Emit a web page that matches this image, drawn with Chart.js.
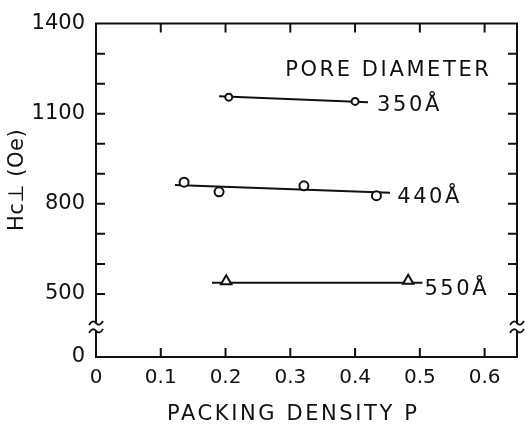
<!DOCTYPE html>
<html>
<head>
<meta charset="utf-8">
<script src="https://cdn.jsdelivr.net/npm/chart.js@4/dist/chart.umd.min.js"></script>
<style>
  html, body { margin: 0; padding: 0; background: #fff; }
  canvas { display: block; }
</style>
</head>
<body>
<canvas id="c" width="528" height="430"></canvas>
<script>
// ---- data ----
const xTicks = [0, 0.1, 0.2, 0.3, 0.4, 0.5, 0.6];
const yTicks = [290, 500, 600, 700, 800, 900, 1000, 1100, 1200, 1300, 1400];
const yLabelValues = [290, 500, 800, 1100, 1400];
const yLabelTexts = ['0', '500', '800', '1100', '1400'];

// 350 Å pores
const p350 = [0.205, 0.40];
const h350 = [1155, 1141];
const fitP350 = [0.19, 0.42];
const fitH350 = [1158, 1138];

// 440 Å pores
const p440 = [0.136, 0.190, 0.321, 0.433];
const h440 = [872, 840, 860, 827];
const fitP440 = [0.122, 0.454];
const fitH440 = [863, 837];

// 550 Å pores
const p550 = [0.201, 0.482];
const h550 = [542, 544];
const fitP550 = [0.179, 0.504];
const fitH550 = [537, 537];

// text notes (data coordinates)
const noteTexts = ['PORE DIAMETER', '350Å', '440Å', '550Å'];
const noteX = [0.292, 0.434, 0.465, 0.507];
const noteY = [1245, 1128, 821, 516];

const xTitle = 'PACKING DENSITY P';
const yTitle = 'Hc⊥ (Oe)';
const breakValues = [403, 377];

const FONT = "'DejaVu Sans', 'Liberation Sans', sans-serif";
const INK = '#111';

function pts(xs, ys) { return xs.map((x, i) => ({ x: x, y: ys[i] })); }

function pointSet(xs, ys, style, r) {
  return {
    data: pts(xs, ys), showLine: false, pointStyle: style,
    pointRadius: r, pointBorderWidth: 2, pointBorderColor: INK,
    pointBackgroundColor: '#fff', order: 0
  };
}
function fitSet(xs, ys) {
  return {
    data: pts(xs, ys), showLine: true, pointRadius: 0,
    borderColor: INK, borderWidth: 2, order: 1
  };
}

const frame = {
  id: 'frame',
  afterDatasetsDraw(chart) {
    const ctx = chart.ctx;
    const a = chart.chartArea;
    const xs = chart.scales.x, ys = chart.scales.y;
    const b1 = ys.getPixelForValue(breakValues[0]);
    const b2 = ys.getPixelForValue(breakValues[1]);
    ctx.save();
    ctx.strokeStyle = INK;
    ctx.lineWidth = 2;
    ctx.lineCap = 'butt';
    ctx.beginPath();
    // top
    ctx.moveTo(a.left - 1, a.top); ctx.lineTo(a.right + 1, a.top);
    // bottom
    ctx.moveTo(a.left - 1, a.bottom); ctx.lineTo(a.right + 1, a.bottom);
    // left with break
    ctx.moveTo(a.left, a.top); ctx.lineTo(a.left, b1);
    ctx.moveTo(a.left, b2); ctx.lineTo(a.left, a.bottom);
    // right with break
    ctx.moveTo(a.right, a.top); ctx.lineTo(a.right, b1);
    ctx.moveTo(a.right, b2); ctx.lineTo(a.right, a.bottom);
    ctx.stroke();

    // break squiggles
    ctx.lineWidth = 1.8;
    [a.left, a.right].forEach(x => {
      [b1, b2].forEach(y => {
        ctx.beginPath();
        ctx.moveTo(x - 7, y + 2);
        ctx.quadraticCurveTo(x - 3.5, y - 4, x, y);
        ctx.quadraticCurveTo(x + 3.5, y + 4, x + 7, y - 2);
        ctx.stroke();
      });
    });

    // inward ticks
    const L = 9;
    ctx.lineWidth = 2;
    ctx.beginPath();
    yTicks.forEach(v => {
      if (v <= 290 || v >= 1400) return;
      const y = ys.getPixelForValue(v);
      ctx.moveTo(a.left, y); ctx.lineTo(a.left + L, y);
      ctx.moveTo(a.right, y); ctx.lineTo(a.right - L, y);
    });
    xTicks.forEach(v => {
      if (v === 0) return;
      const x = xs.getPixelForValue(v);
      ctx.moveTo(x, a.top); ctx.lineTo(x, a.top + L);
      ctx.moveTo(x, a.bottom); ctx.lineTo(x, a.bottom - L);
    });
    ctx.stroke();

    // notes
    ctx.fillStyle = INK;
    ctx.font = '21px ' + FONT;
    ctx.textBaseline = 'middle';
    ctx.textAlign = 'left';
    try { ctx.letterSpacing = '2.6px'; } catch (e) {}
    noteTexts.forEach((t, i) => {
      ctx.fillText(t, xs.getPixelForValue(noteX[i]), ys.getPixelForValue(noteY[i]));
    });

    // x title
    ctx.fillText(xTitle, 167, 415);

    // y title
    try { ctx.letterSpacing = '0.5px'; } catch (e) {}
    ctx.translate(18, 180);
    ctx.rotate(-Math.PI / 2);
    ctx.textAlign = 'center';
    ctx.fillText(yTitle, 0, 0);
    ctx.restore();
  }
};

new Chart(document.getElementById('c'), {
  type: 'scatter',
  data: {
    datasets: [
      pointSet(p350, h350, 'circle', 3.5),
      pointSet(p440, h440, 'circle', 4.5),
      pointSet(p550, h550, 'triangle', 6),
      fitSet(fitP350, fitH350),
      fitSet(fitP440, fitH440),
      fitSet(fitP550, fitH550)
    ]
  },
  options: {
    responsive: false,
    animation: false,
    devicePixelRatio: 1,
    layout: { padding: { left: 0, top: 14, right: 11, bottom: 0 } },
    plugins: { legend: { display: false }, tooltip: { enabled: false } },
    scales: {
      x: {
        type: 'linear', min: 0, max: 0.65,
        grid: { display: false, drawTicks: false },
        border: { display: false },
        afterBuildTicks: s => { s.ticks = xTicks.map(v => ({ value: v })); },
        afterFit: s => { s.height = 73; },
        ticks: {
          color: INK, padding: 9, maxRotation: 0, autoSkip: false,
          font: { family: FONT, size: 20 },
          callback: v => (v === 0 ? '0' : Number(v).toFixed(1))
        }
      },
      y: {
        type: 'linear', min: 290, max: 1400,
        grid: { display: false, drawTicks: false },
        border: { display: false },
        afterBuildTicks: s => { s.ticks = yTicks.map(v => ({ value: v })); },
        afterFit: s => { s.width = 96; },
        ticks: {
          color: INK, padding: 11, autoSkip: false,
          font: { family: FONT, size: 21 },
          callback: v => {
            const i = yLabelValues.indexOf(v);
            return i >= 0 ? yLabelTexts[i] : '';
          }
        }
      }
    }
  },
  plugins: [frame]
});
</script>
</body>
</html>
